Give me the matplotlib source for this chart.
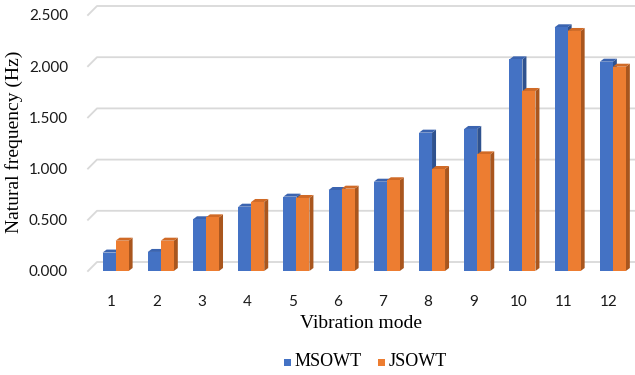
import matplotlib.pyplot as plt
from matplotlib.patches import Polygon, Rectangle
import numpy as np

modes = [str(i) for i in range(1, 13)]
msowt = [0.180, 0.186, 0.505, 0.628, 0.726, 0.791, 0.872, 1.351, 1.387, 2.067, 2.380, 2.044]
jsowt = [0.296, 0.296, 0.524, 0.674, 0.713, 0.804, 0.886, 0.996, 1.139, 1.758, 2.344, 1.995]
series = [("MSOWT", msowt), ("JSOWT", jsowt)]
y_ticks = [0.0, 0.5, 1.0, 1.5, 2.0, 2.5]

face = {"MSOWT": "#4472C4", "JSOWT": "#ED7D31"}
side = {"MSOWT": "#2F528F", "JSOWT": "#A9561E"}
top = {"MSOWT": "#3B64B0", "JSOWT": "#D06A26"}

W, H = 635, 375
fig = plt.figure(figsize=(W / 100, H / 100), dpi=100)
# plot area in pixels: x 93..635, value 0 at y=271, 2.5 at y=15 (from top)
ax = fig.add_axes([93 / W, (H - 271) / H, 542 / W, 256 / H])
ax.set_xlim(0.5, 12.49)
ax.set_ylim(0, 2.5)
for s in ax.spines.values():
    s.set_visible(False)

px_x = 542 / 11.99      # pixels per category
px_y = 256 / 2.5        # pixels per unit value
bw = 13 / px_x          # bar face width
dx, dy = 4 / px_x, 3 / px_y   # depth offset of bar sides

# back-wall gridlines with the slanted floor/left edge
gx0, gx1 = 0.5 - 5 / px_x, 0.5 + 4 / px_x
for v in y_ticks:
    yb = v + 9 / px_y
    ax.plot([gx0, gx1, 12.49 + 10 / px_x], [v, yb, yb], color="#D9D9D9",
            lw=1.3, clip_on=False, zorder=1)

x = np.arange(1, 13)
for i, xc in enumerate(x):
    for k, (name, vals) in enumerate(series):
        v = vals[i]
        x0 = xc - bw + k * bw + 0.0
        x1 = x0 + bw
        ax.add_patch(Polygon([[x1, 0], [x1 + dx, dy], [x1 + dx, v + dy], [x1, v]],
                             closed=True, fc=side[name], ec="none", zorder=3, clip_on=False))
        ax.add_patch(Polygon([[x0, v], [x0 + dx, v + dy], [x1 + dx, v + dy], [x1, v]],
                             closed=True, fc=top[name], ec="none", zorder=3, clip_on=False))
        ax.add_patch(Rectangle((x0, 0), bw, v, fc=face[name], ec="none",
                               zorder=3, clip_on=False))

ax.set_yticks(y_ticks)
ax.set_yticklabels([f"{t:.3f}" for t in y_ticks], family="Lato", fontsize=11, color="#1a1a1a")
ax.set_xticks(x - 4 / px_x)
ax.set_xticklabels(modes, family="Lato", fontsize=11, color="#1a1a1a")
ax.tick_params(axis="y", length=0, pad=18)
ax.tick_params(axis="x", length=0, pad=17)

fig.text(361 / W, 1 - 323 / H, "Vibration mode", family="Liberation Serif",
         fontsize=14, ha="center", va="center")
fig.text(14 / W, 1 - 142 / H, "Natural frequency (Hz)", family="Liberation Serif",
         fontsize=14, ha="center", va="center", rotation=90)

# legend
for name, sx, tx in [("MSOWT", 284, 295), ("JSOWT", 378, 389)]:
    fig.patches.append(Rectangle((sx / W, 1 - 365.5 / H), 7 / W, 7 / H,
                                 transform=fig.transFigure, fc=face[name], ec="none"))
    fig.text(tx / W, 1 - 362 / H, name, family="Liberation Serif", fontsize=13,
             ha="left", va="center")

fig.savefig("out.png", dpi=100)
